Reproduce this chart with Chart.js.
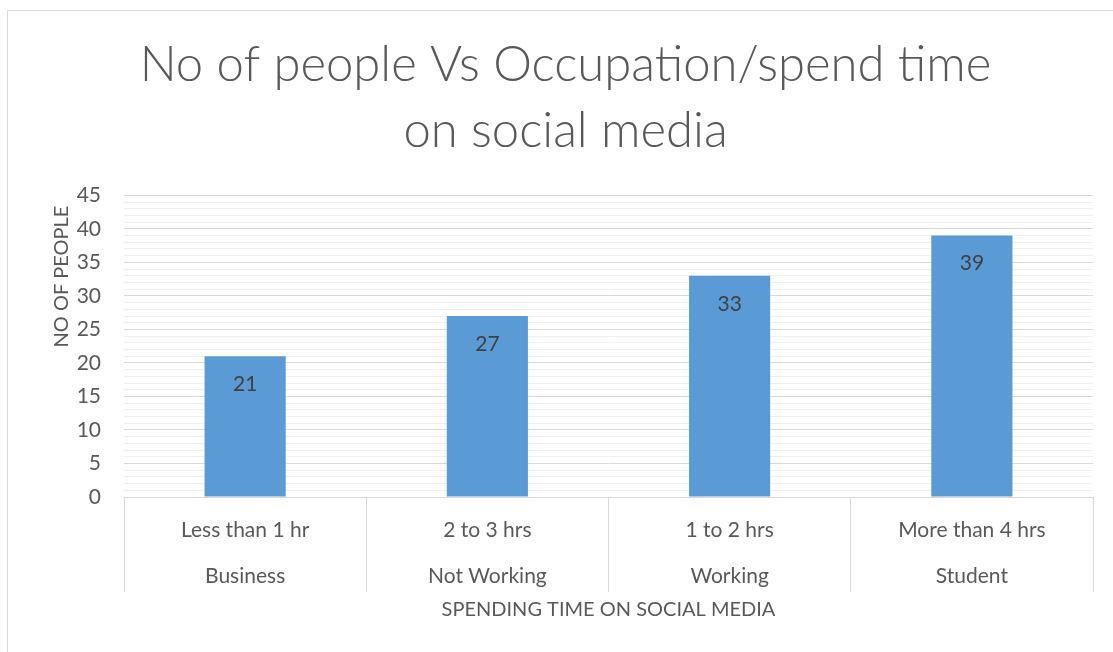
<!DOCTYPE html>
<html>
<head>
<meta charset="utf-8">
<title>No of people Vs Occupation/spend time on social media</title>
<script src="https://cdn.jsdelivr.net/npm/chart.js@4/dist/chart.umd.min.js"></script>
<style>
  html, body { margin: 0; padding: 0; background: #fff; overflow: hidden; }
  #frame {
    position: absolute; left: 7px; top: 10px;
    width: 1200px; height: 700px;
    border: 1px solid #d9d9d9;
  }
  #chart { position: absolute; left: 0; top: 0; }
</style>
</head>
<body>
<div id="frame"></div>
<canvas id="chart" width="1113" height="652"></canvas>
<script>
// time spent on social media, grouped under occupation
const spendTime = ['Less than 1 hr', '2 to 3 hrs', '1 to 2 hrs', 'More than 4 hrs'];
const occupation = ['Business', 'Not Working', 'Working', 'Student'];
const people = [21, 27, 33, 39];

const FONT = 'Lato, "Open Sans", sans-serif';
const TEXT = '#595959';
const GRID_MAJOR = '#d9d9d9';
const GRID_MINOR = '#f0f0f0';

// two-row category labels: spend time on top, occupation below
const labels = spendTime.map((t, i) => [t, occupation[i]]);

// value written inside the top of each bar
const barValues = {
    id: 'barValues',
    afterDatasetsDraw(chart) {
        const ctx = chart.ctx;
        const meta = chart.getDatasetMeta(0);
        ctx.save();
        ctx.font = '21px ' + FONT;
        ctx.fillStyle = '#404040';
        ctx.textAlign = 'center';
        ctx.textBaseline = 'middle';
        meta.data.forEach((bar, i) => {
            ctx.fillText(String(people[i]), bar.x, bar.y + 28);
        });
        ctx.restore();
    }
};

new Chart(document.getElementById('chart'), {
    type: 'bar',
    data: {
        labels: labels,
        datasets: [{
            label: 'No of people',
            data: people,
            backgroundColor: '#5b9bd5',
            borderWidth: 0,
            categoryPercentage: 1,
            barPercentage: 0.335
        }]
    },
    plugins: [barValues],
    options: {
        responsive: false,
        animation: false,
        layout: { padding: { left: 38, right: 20, top: 0, bottom: 0 } },
        plugins: {
            legend: { display: false },
            tooltip: { enabled: false },
            title: {
                display: true,
                text: ['No of people Vs Occupation/spend time', 'on social media'],
                color: TEXT,
                font: { family: FONT, size: 49, weight: 300, lineHeight: 1.33 },
                padding: { top: 33, bottom: 32 }
            }
        },
        scales: {
            x: {
                grid: {
                    offset: true,
                    drawOnChartArea: false,
                    drawTicks: true,
                    tickLength: 95,
                    color: GRID_MAJOR
                },
                border: { display: true, color: GRID_MAJOR },
                ticks: {
                    color: TEXT,
                    font: { family: FONT, size: 21, lineHeight: 2.19 },
                    padding: -85,
                    maxRotation: 0,
                    autoSkip: false
                },
                title: {
                    display: true,
                    text: 'SPENDING TIME ON SOCIAL MEDIA',
                    color: TEXT,
                    font: { family: FONT, size: 20 },
                    padding: { top: 0, bottom: 30 }
                },
                afterFit(scale) { scale.height = 155; }
            },
            y: {
                min: 0,
                max: 45,
                grid: {
                    drawTicks: false,
                    color: c => (c.tick && c.tick.value % 5 === 0) ? GRID_MAJOR : GRID_MINOR
                },
                border: { display: false },
                ticks: {
                    stepSize: 1,
                    autoSkip: false,
                    color: TEXT,
                    font: { family: FONT, size: 21 },
                    padding: 23,
                    callback: v => (v % 5 === 0 ? v : '')
                },
                title: {
                    display: true,
                    text: 'NO OF PEOPLE  ',
                    align: 'end',
                    color: TEXT,
                    font: { family: FONT, size: 20 },
                    padding: { top: 12, bottom: 0 }
                },
                afterFit(scale) { scale.width = 86; }
            }
        }
    }
});
</script>
</body>
</html>
